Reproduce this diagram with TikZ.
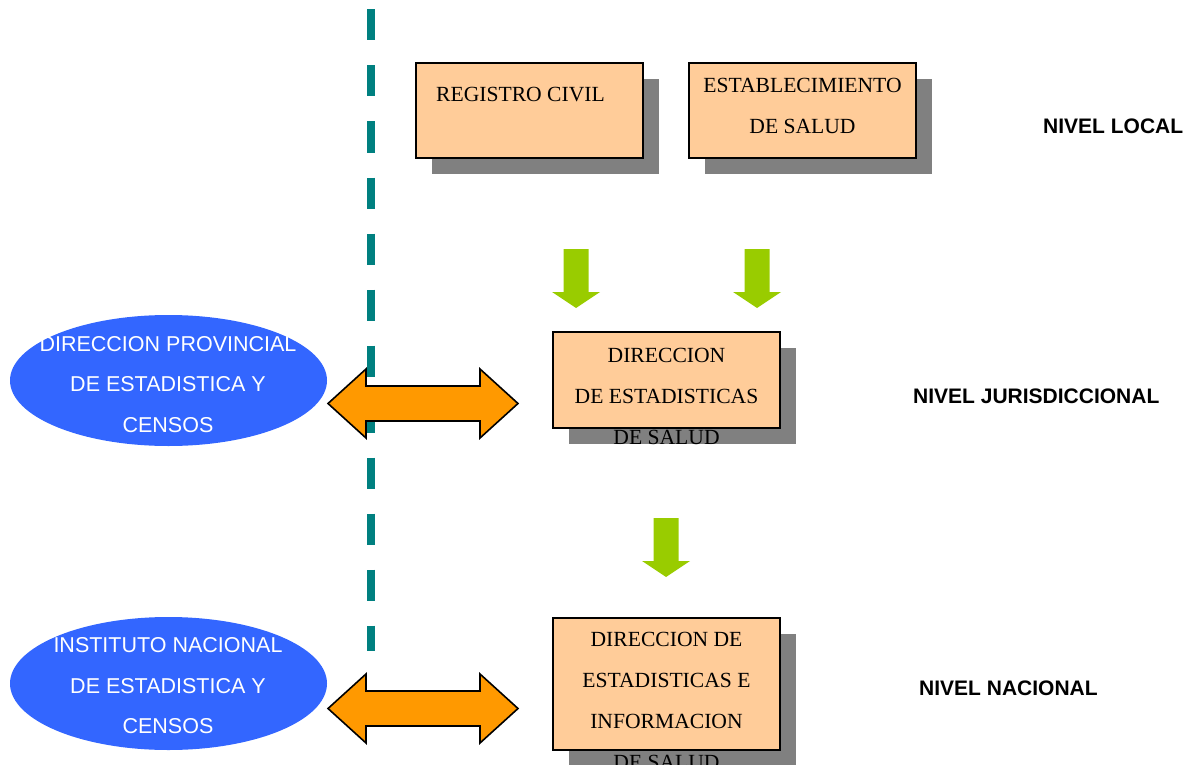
\documentclass[tikz,border=0pt]{standalone}
\usepackage{fontspec}
\setmainfont{Liberation Serif}
\setsansfont{Liberation Sans}
\usetikzlibrary{shapes.geometric,shadows}
\definecolor{cajafondo}{HTML}{FFCC99}
\definecolor{sombra}{HTML}{808080}
\definecolor{azulelipse}{HTML}{3366FF}
\definecolor{naranja}{HTML}{FF9900}
\definecolor{verde}{HTML}{99CC00}
\definecolor{verdeazul}{HTML}{008080}

\begin{document}
\begin{tikzpicture}[x=1pt,y=-1pt,
  caja/.style={draw,line width=1.5pt,fill=cajafondo,minimum width=227pt,minimum height=95pt,inner sep=0pt,
    drop shadow={shadow xshift=16pt,shadow yshift=-16pt,fill=sombra,opacity=1}},
  elipse/.style={ellipse,fill=azulelipse,minimum width=317pt,minimum height=131pt,inner sep=0pt},
  textocaja/.style={font=\fontsize{21.6}{41}\selectfont,align=center,inner sep=0pt},
  textoelipse/.style={font=\sffamily\fontsize{21.5}{40.5}\selectfont,align=center,inner sep=0pt,text=white},
  nivel/.style={font=\sffamily\bfseries\fontsize{21}{25}\selectfont,anchor=west,inner sep=0pt}]
 \useasboundingbox (0,0) rectangle (1188,765);
 \clip (0,0) rectangle (1188,765);

 % linea divisoria
 \draw[verdeazul,line width=8pt,dash pattern=on 31pt off 25pt] (371,9.5) -- (371,651);

 % nivel local
 \draw (529.5,110.5) node[caja] (registro) {};
 \draw (802.5,110.5) node[caja] (establecimiento) {};
 \draw (436,95) node[textocaja,anchor=west] (registro-t) {REGISTRO CIVIL};
 \draw (802.5,106) node[textocaja] (establecimiento-t) {ESTABLECIMIENTO\\DE SALUD};
 \draw (1043,126) node[nivel] (local) {NIVEL LOCAL};

 % flechas verdes
 \fill[verde] (563.5,249) -- (588.5,249) -- (588.5,292) -- (600,292) -- (576,308) -- (552,292) -- (563.5,292) -- cycle;
 \fill[verde] (744.5,249) -- (769.5,249) -- (769.5,292) -- (781,292) -- (757,308) -- (733,292) -- (744.5,292) -- cycle;
 \fill[verde] (653.5,518) -- (678.5,518) -- (678.5,561) -- (690,561) -- (666,577) -- (642,561) -- (653.5,561) -- cycle;

 % nivel jurisdiccional
 \draw (168.5,380.5) node[elipse] (provincial) {};
 \draw (168,384.5) node[textoelipse] (provincial-t) {DIRECCION PROVINCIAL\\DE ESTADISTICA Y\\CENSOS};
 \draw (666.5,380) node[caja,minimum height=96pt] (direccion) {};
 \draw (666.5,396) node[textocaja] (direccion-t) {DIRECCION\\DE ESTADISTICAS\\DE SALUD};
 \draw[line width=1.6pt,fill=naranja,line join=miter] (328,403.5) -- (366,369) -- (366,386) -- (480,386) -- (480,369) -- (518,403.5)
   -- (480,438) -- (480,421) -- (366,421) -- (366,438) -- cycle;
 \draw (913,396) node[nivel] (jurisdiccional) {NIVEL JURISDICCIONAL};

 % nivel nacional
 \draw (168.5,683.5) node[elipse,minimum height=133pt] (instituto) {};
 \draw (168,686) node[textoelipse] (instituto-t) {INSTITUTO NACIONAL\\DE ESTADISTICA Y\\CENSOS};
 \draw (666.5,684) node[caja,minimum height=132pt] (nacional) {};
 \draw (666.5,701) node[textocaja] (nacional-t) {DIRECCION DE\\ESTADISTICAS E\\INFORMACION\\DE SALUD};
 \draw[line width=1.6pt,fill=naranja,line join=miter] (328,708.5) -- (366,674) -- (366,691) -- (480,691) -- (480,674) -- (518,708.5)
   -- (480,743) -- (480,726) -- (366,726) -- (366,743) -- cycle;
 \draw (919,688) node[nivel] (nacional-n) {NIVEL NACIONAL};
\end{tikzpicture}
\end{document}
